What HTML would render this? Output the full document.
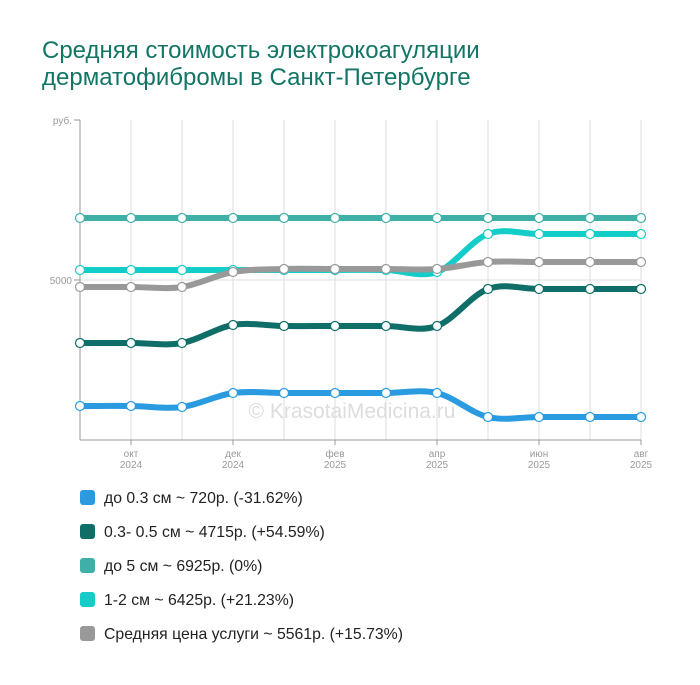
<!DOCTYPE html><html><head><meta charset="utf-8"><style>
body{margin:0;background:#fff;font-family:"Liberation Sans",sans-serif}
#w{position:relative;width:700px;height:685px;overflow:hidden}
h1{position:absolute;left:42px;top:37px;margin:0;font-weight:normal;font-size:24px;line-height:27px;color:#137565}
.l{position:absolute;left:80px;font-size:15.8px;color:#222}
.l i{display:inline-block;width:15px;height:15px;border-radius:3px;vertical-align:-2px;margin-right:9px}
</style></head><body><div id="w">
<h1>Средняя стоимость электрокоагуляции<br>дерматофибромы в Санкт-Петербурге</h1>
<svg id="s" width="700" height="685" style="position:absolute;left:0;top:0"></svg>
<div class="l" style="top:490px"><i style="background:#2a9be0"></i>до 0.3 см ~ 720р. (-31.62%)</div>
<div class="l" style="top:524px"><i style="background:#0f6e68"></i>0.3- 0.5 см ~ 4715р. (+54.59%)</div>
<div class="l" style="top:558px"><i style="background:#3fb0a8"></i>до 5 см ~ 6925р. (0%)</div>
<div class="l" style="top:592px"><i style="background:#14cdc8"></i>1-2 см ~ 6425р. (+21.23%)</div>
<div class="l" style="top:626px"><i style="background:#999"></i>Средняя цена услуги ~ 5561р. (+15.73%)</div>
</div>
<script>
var s='',X=[];for(var i=0;i<12;i++)X.push(80+51*i);
for(i=1;i<12;i++)s+='<line x1="'+X[i]+'" y1="120" x2="'+X[i]+'" y2="440" stroke="#ddd"/>';
s+='<line x1="80" y1="280" x2="641" y2="280" stroke="#ddd"/>';
s+='<line x1="80" y1="120" x2="80" y2="440" stroke="#999"/><line x1="74" y1="120" x2="80" y2="120" stroke="#999"/><line x1="74" y1="280" x2="80" y2="280" stroke="#999"/>';
s+='<line x1="80" y1="440" x2="641" y2="440" stroke="#999"/>';
s+='<text x="72" y="124" text-anchor="end" font-size="10" fill="#999">руб.</text><text x="72" y="284" text-anchor="end" font-size="10" fill="#999">5000</text>';
var lab=[[1,'окт'],[3,'дек'],[5,'фев'],[7,'апр'],[9,'июн'],[11,'авг']];
lab.forEach(function(a){var x=X[a[0]];s+='<line x1="'+x+'" y1="440" x2="'+x+'" y2="445" stroke="#999"/><text x="'+x+'" y="457" text-anchor="middle" font-size="10" fill="#999">'+a[1]+'</text><text x="'+x+'" y="468" text-anchor="middle" font-size="10" fill="#999">'+(a[0]<5?2024:2025)+'</text>';});
s+='<text x="352" y="418" text-anchor="middle" font-size="21" fill="#ddd">© KrasotaiMedicina.ru</text>';
var S=[['#2a9be0',[406,406,407,393,393,393,393,393,417,417,417,417]],
['#0f6e68',[343,343,343,325,326,326,326,326,289,289,289,289]],
['#3fb0a8',[218,218,218,218,218,218,218,218,218,218,218,218]],
['#14cdc8',[270,270,270,270,270,270,270,272,234,234,234,234]],
['#999',[287,287,287,272,269,269,269,269,262,262,262,262]]];
S.forEach(function(o){var y=o[1],d='M'+X[0]+' '+y[0];for(var i=1;i<12;i++){var a=i>1?(y[i]-y[i-2])/6:0,b=i<11?(y[i+1]-y[i-1])/6:0;d+=' C'+(X[i-1]+17)+' '+(y[i-1]+a)+' '+(X[i]-17)+' '+(y[i]-b)+' '+X[i]+' '+y[i];}
s+='<path d="'+d+'" fill="none" stroke="'+o[0]+'" stroke-width="6"/>';});
S.forEach(function(o){o[1].forEach(function(y,i){s+='<circle cx="'+X[i]+'" cy="'+y+'" r="4.5" fill="#fff" stroke="'+o[0]+'" stroke-width="1.2"/>';});});
document.getElementById('s').innerHTML=s;
</script></body></html>
